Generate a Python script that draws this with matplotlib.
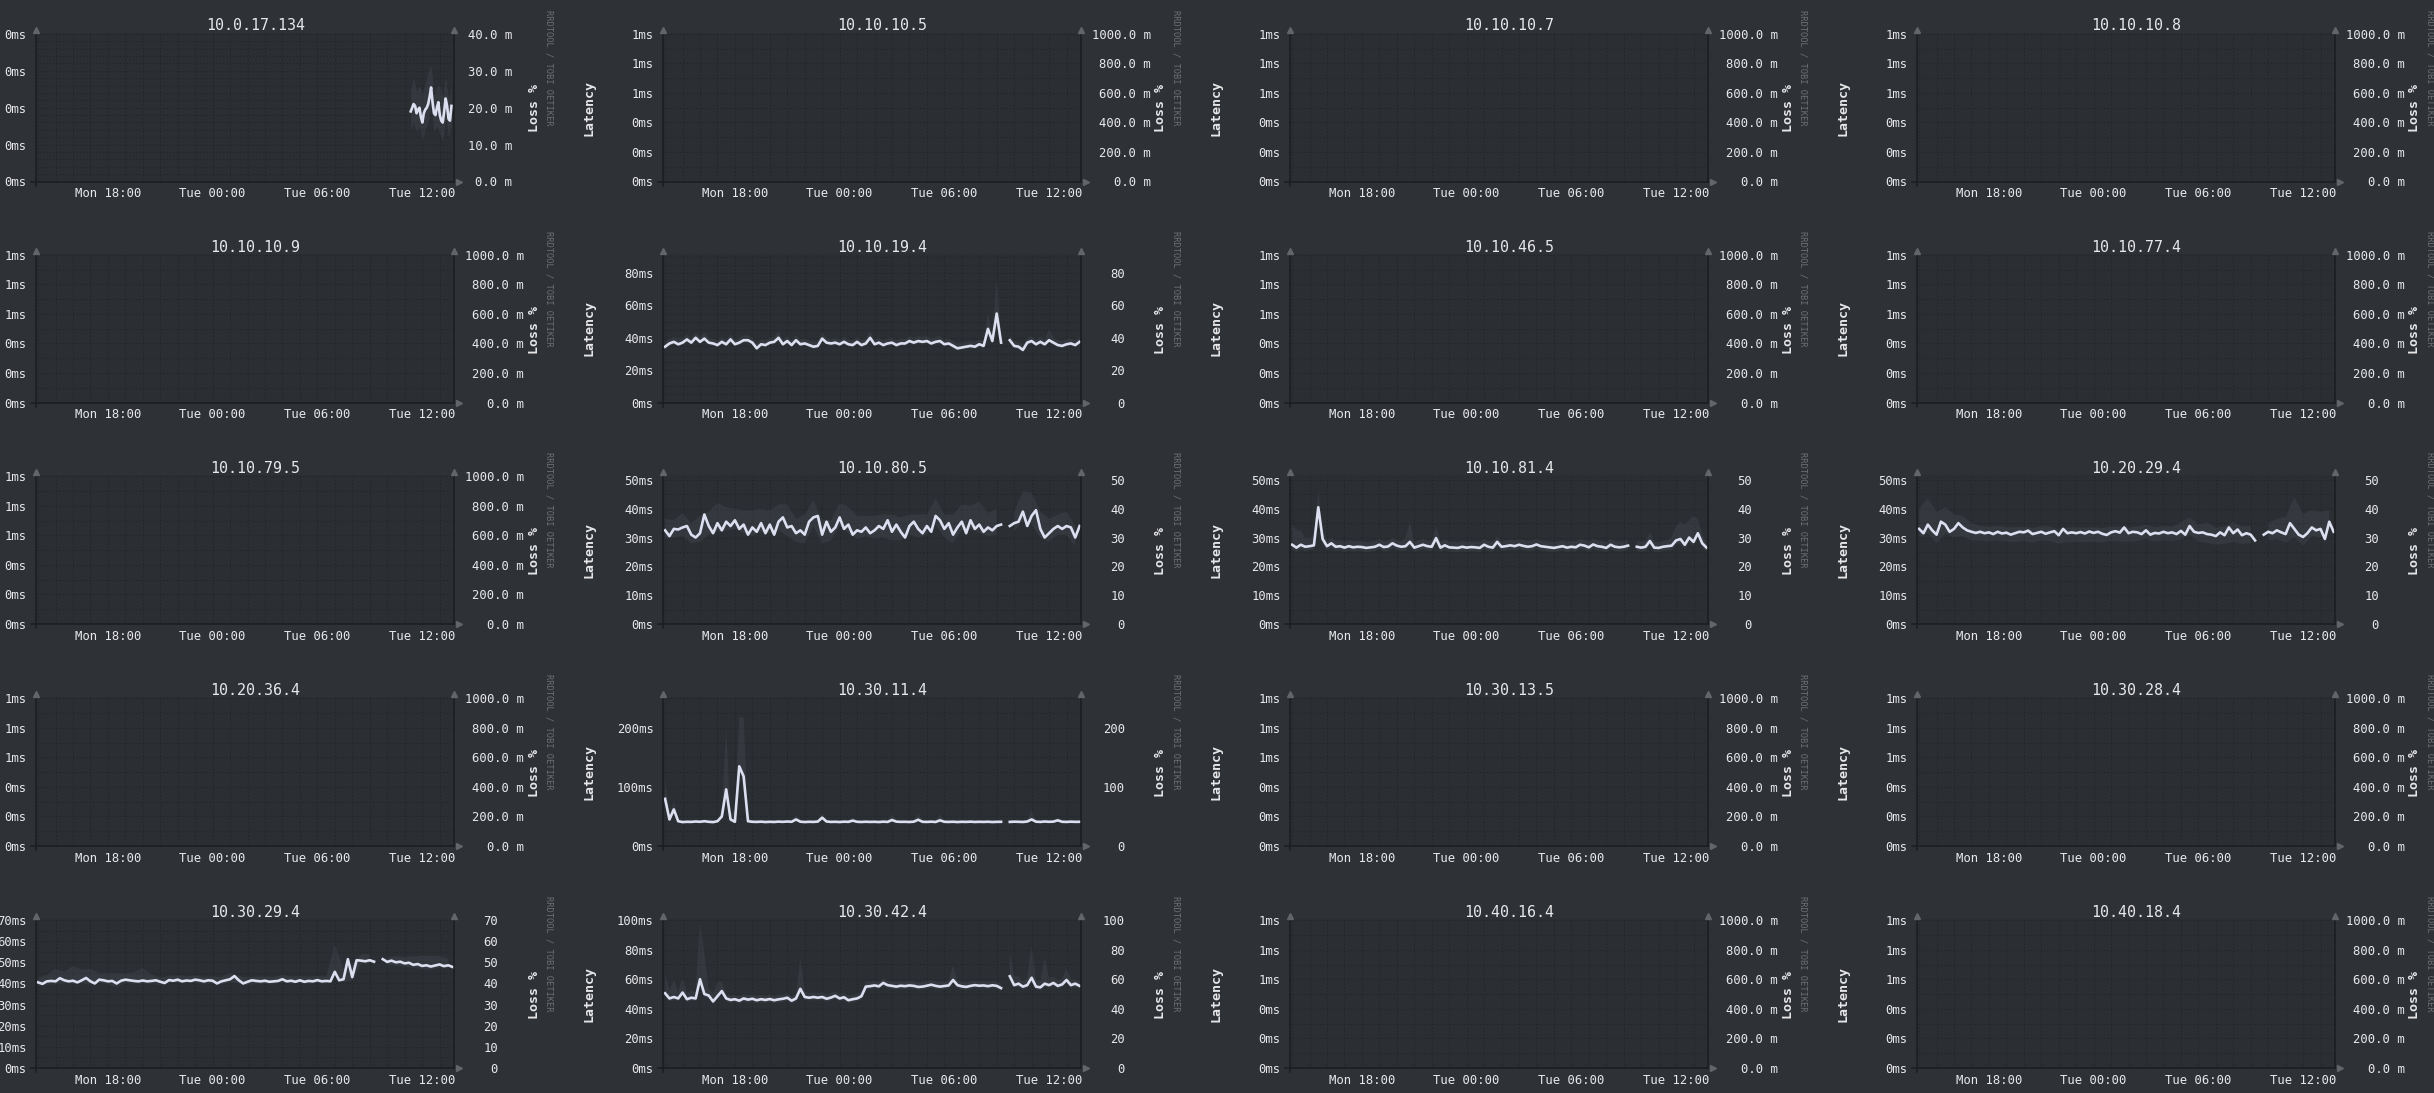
import numpy as np
import matplotlib
matplotlib.use("Agg")
import matplotlib.pyplot as plt
from matplotlib.ticker import MultipleLocator

plt.rcParams["font.family"] = ["DejaVu Sans Mono", "DejaVu Sans"]

nan = float("nan")

# ---------------- data ----------------
hosts = [
    "10.0.17.134", "10.10.10.5", "10.10.10.7", "10.10.10.8",
    "10.10.10.9", "10.10.19.4", "10.10.46.5", "10.10.77.4",
    "10.10.79.5", "10.10.80.5", "10.10.81.4", "10.20.29.4",
    "10.20.36.4", "10.30.11.4", "10.30.13.5", "10.30.28.4",
    "10.30.29.4", "10.30.42.4", "10.40.16.4", "10.40.18.4",
]
time_ticks = [18, 24, 30, 36]           # hours since Mon 00:00
time_labels = ["Mon 18:00", "Tue 00:00", "Tue 06:00", "Tue 12:00"]
window_start, window_end = 13.88, 37.83
sample_step = 0.25                       # 15 min samples from Mon 14:00
sample_first = 14.0
n_samples = 96

lat_10_10_19_4 = [
    34.5, 36.5, 37.5, 36.0, 37.0, 39.0, 37.0, 40.0, 37.5, 39.5, 37.0, 36.5,
    35.5, 37.5, 36.0, 39.0, 36.0, 37.0, 38.5, 38.5, 37.0, 33.5, 36.0, 35.5,
    37.0, 37.5, 40.0, 36.0, 38.0, 35.5, 38.5, 36.0, 36.5, 35.5, 34.5, 35.0,
    39.5, 37.0, 36.5, 37.0, 36.0, 37.5, 36.0, 35.5, 37.5, 35.5, 36.5, 40.0,
    36.0, 37.0, 35.5, 36.5, 37.0, 35.5, 36.5, 36.5, 38.0, 37.0, 38.0, 37.5,
    38.0, 36.5, 37.5, 38.0, 36.0, 36.5, 35.0, 33.5, 34.0, 34.5, 35.0, 34.5,
    36.0, 35.0, 45.5, 38.0, 55.0, 37.0, nan, 38.5, 35.0, 34.5, 32.5, 37.0,
    38.0, 36.0, 37.5, 36.0, 38.5, 37.0, 35.5, 35.0, 36.0, 36.5, 35.5, 37.5]
lat_10_10_80_5 = [
    32.5, 30.5, 33.0, 32.8, 33.5, 34.0, 31.0, 30.0, 31.5, 38.0, 34.0, 31.5,
    35.0, 32.5, 35.5, 34.0, 36.0, 33.0, 34.5, 31.0, 33.5, 32.0, 35.0, 31.5,
    34.5, 31.0, 35.5, 37.0, 33.5, 34.0, 31.5, 32.5, 31.0, 35.5, 37.0, 37.5,
    31.0, 35.5, 32.0, 33.5, 37.0, 33.0, 34.5, 31.0, 32.5, 32.0, 33.5, 31.5,
    32.5, 34.0, 33.0, 36.0, 32.0, 34.5, 32.0, 30.0, 34.0, 35.5, 33.0, 31.5,
    34.0, 32.0, 37.5, 36.0, 33.0, 35.0, 31.0, 33.5, 35.5, 31.5, 36.0, 33.0,
    34.5, 32.0, 33.5, 32.5, 34.0, 34.5, nan, 34.0, 35.0, 35.5, 39.0, 34.0,
    37.5, 39.5, 33.0, 30.0, 31.5, 33.0, 34.0, 33.0, 34.0, 33.5, 30.0, 34.0]
lat_10_10_81_4 = [
    27.5, 26.5, 27.5, 26.8, 27.0, 27.3, 40.5, 29.5, 27.0, 28.0, 26.8, 27.0,
    26.5, 27.0, 26.6, 26.8, 26.7, 26.4, 26.6, 26.8, 27.5, 26.7, 26.9, 28.0,
    27.2, 26.8, 27.0, 28.5, 26.5, 27.0, 27.5, 27.0, 26.8, 29.8, 26.5, 27.3,
    26.6, 26.5, 26.4, 26.8, 26.5, 26.7, 26.6, 26.4, 27.5, 26.8, 26.5, 28.5,
    26.8, 27.0, 27.3, 27.0, 27.5, 27.1, 26.8, 27.0, 27.6, 27.0, 26.8, 26.6,
    26.4, 26.7, 27.0, 26.5, 26.8, 26.6, 27.5, 27.2, 26.6, 27.6, 27.0, 26.8,
    26.4, 27.5, 26.8, 26.6, 26.8, 27.2, nan, 26.8, 26.5, 26.8, 28.8, 26.5,
    26.4, 26.8, 27.0, 27.2, 29.0, 29.5, 27.5, 30.0, 28.5, 31.5, 28.0, 26.5]
lat_10_20_29_4 = [
    33.0, 31.5, 34.5, 32.5, 31.0, 35.5, 34.5, 32.0, 33.0, 35.0, 33.5, 32.5,
    32.0, 31.6, 32.0, 31.5, 31.8, 31.2, 32.0, 31.4, 31.7, 31.0, 31.5, 32.0,
    31.8, 32.4, 31.2, 31.6, 32.0, 31.3, 31.8, 32.2, 30.8, 33.0, 31.5, 31.8,
    31.5, 31.9, 31.4, 32.1, 31.6, 32.0, 31.3, 30.9, 31.8, 32.2, 31.7, 33.5,
    31.5, 32.0, 31.8, 31.2, 32.5, 31.0, 31.6, 31.4, 32.0, 31.5, 31.8, 31.2,
    32.3, 31.0, 34.0, 32.0, 31.6, 31.8, 31.2, 31.0, 30.5, 31.8, 30.8, 33.5,
    31.5, 32.8, 30.8, 31.5, 31.0, 29.0, nan, 31.0, 32.0, 31.5, 32.5, 31.8,
    31.2, 35.0, 33.0, 31.0, 30.2, 31.5, 33.5, 32.5, 33.0, 29.5, 35.5, 32.0]
lat_10_30_11_4 = [
    80.0, 45.0, 62.0, 42.0, 40.5, 41.0, 40.8, 41.5, 41.0, 42.0, 41.0, 40.5,
    42.0, 50.0, 96.0, 45.0, 41.0, 135.0, 118.0, 42.0, 41.0, 40.8, 41.2, 40.6,
    41.0, 40.7, 41.3, 40.9, 41.5, 41.0, 45.0, 41.2, 40.6, 41.0, 40.8, 41.4,
    48.0, 41.5, 40.8, 41.0, 40.6, 41.2, 40.9, 43.0, 41.0, 40.7, 41.1, 40.8,
    41.0, 40.6, 41.2, 40.8, 44.0, 41.3, 40.9, 41.0, 40.7, 41.2, 44.5, 41.0,
    40.8, 41.2, 40.7, 43.5, 41.0, 40.8, 41.1, 40.6, 41.0, 40.8, 41.2, 40.7,
    41.0, 40.8, 41.1, 40.6, 40.9, 41.0, nan, 40.8, 41.2, 41.0, 40.7, 41.5,
    45.0, 41.2, 40.8, 41.5, 41.0, 41.3, 43.5, 41.0, 40.8, 41.2, 40.9, 41.0]
lat_10_30_29_4 = [
    40.5, 39.8, 41.0, 41.2, 41.0, 42.5, 41.5, 41.0, 41.3, 40.5, 41.5, 42.6,
    41.0, 40.0, 41.8, 41.5, 41.0, 41.2, 40.0, 41.3, 41.8, 41.5, 41.2, 41.0,
    41.4, 41.0, 41.2, 41.5, 40.8, 40.2, 41.6, 41.3, 41.8, 41.0, 41.4, 41.2,
    41.8, 41.5, 41.0, 41.5, 41.3, 40.0, 41.0, 41.5, 42.0, 43.5, 41.5, 40.0,
    40.8, 41.5, 41.2, 41.0, 41.3, 40.8, 41.0, 41.2, 42.0, 41.0, 41.3, 40.8,
    41.5, 40.8, 41.2, 41.0, 41.6, 41.0, 41.2, 41.0, 45.5, 41.5, 42.0, 51.5,
    43.0, 51.0, 50.8, 50.5, 51.0, 50.3, nan, 51.5, 50.2, 50.8, 50.0, 50.3,
    49.5, 49.8, 48.8, 49.2, 48.3, 48.6, 48.0, 48.5, 49.0, 48.2, 48.6, 47.8]
lat_10_30_42_4 = [
    50.5, 47.0, 48.0, 47.0, 51.0, 46.5, 47.5, 47.0, 60.0, 50.0, 49.0, 45.0,
    48.5, 52.0, 47.0, 46.0, 46.5, 45.5, 47.0, 46.2, 46.8, 45.8, 46.5, 46.0,
    46.6, 45.8, 46.4, 46.8, 47.5, 45.5, 47.0, 53.5, 48.0, 47.5, 48.0, 47.5,
    48.0, 46.8, 47.6, 48.8, 47.0, 47.8, 45.8, 46.5, 47.0, 48.5, 55.0, 55.3,
    55.8, 55.2, 57.5, 56.0, 55.5, 55.0, 55.6, 55.3, 55.8, 55.5, 54.8, 55.0,
    55.6, 56.3, 55.5, 55.0, 55.4, 55.8, 59.5, 56.0, 55.2, 54.8, 55.5, 56.0,
    55.6, 55.8, 55.3, 55.9, 55.5, 54.0, nan, 62.0, 56.0, 57.0, 55.0, 56.0,
    61.0, 55.0, 54.5, 57.0, 56.0, 57.5, 55.5, 56.5, 59.5, 56.0, 57.0, 55.5]
# 10.0.17.134 only reports during the last hours (5 min samples)
lat_10_0_17_134_start = 35.35
lat_10_0_17_134 = [
    19.0, 20.0, 21.0, 20.5, 18.5, 19.5, 20.0, 17.5, 16.0, 18.5, 19.5, 20.0,
    21.0, 23.0, 25.5, 21.5, 18.5, 18.0, 20.0, 21.5, 18.0, 16.5, 16.0, 19.0,
    22.5, 20.5, 17.0, 16.5, 20.5]

# smoke: spread above the median (every sample, or every 2nd sample for the
# shorter lists) and a spread below the median
smoke_up_10_10_19_4 = [
    3, 3, 3, 4, 3, 3, 3, 3, 3, 4, 3, 3,  3, 3, 3, 3, 3, 3, 3, 3, 3, 3, 3, 3,
    3, 3, 4, 3, 3, 3, 3, 3, 3, 3, 3, 3,  4, 3, 3, 3, 3, 3, 3, 3, 3, 3, 3, 4,
    3, 3, 3, 3, 3, 3, 3, 3, 3, 3, 3, 3,  3, 3, 3, 3, 3, 3, 3, 3, 3, 3, 3, 3,
    3, 3, 10, 4, 22, 4, 3, 3, 3, 3, 3, 3,  3, 3, 3, 3, 7, 3, 3, 3, 3, 3, 3, 3]
smoke_up_10_10_80_5 = [4, 3, 5, 4, 6, 5, 7, 5, 4, 5, 6, 5, 5, 6, 8, 5, 7, 6, 5, 4, 5, 6, 5, 4,
                       5, 5, 6, 5, 4, 5, 4, 6, 5, 7, 6, 5, 8, 5, 6, 5, 4, 7, 8, 6, 5, 4, 5, 4]
smoke_up_10_10_81_4 = [
    7, 6, 5, 3, 3, 3, 6, 3, 2, 2, 2, 2,  2, 2, 2, 2, 2, 2, 2, 2, 2, 2, 2, 2,
    2, 2, 3, 7, 2, 2, 2, 2, 2, 4, 2, 2,  2, 2, 2, 2, 2, 2, 2, 2, 2, 2, 2, 2,
    2, 2, 2, 2, 2, 2, 2, 2, 2, 2, 2, 2,  2, 2, 2, 2, 2, 2, 2, 2, 2, 2, 2, 2,
    2, 2, 2, 2, 2, 2, 2, 2, 2, 2, 3, 2,  2, 2, 2, 3, 5, 6, 7, 6, 9, 5, 3, 2]
smoke_up_10_20_29_4 = [7, 9, 8, 6, 5, 4, 3, 2, 2, 2, 2, 2, 2, 2, 2, 2, 2, 2, 2, 2, 2, 2, 2, 2,
                       2, 2, 2, 2, 2, 2, 3, 3, 3, 4, 3, 3, 4, 3, 3, 2, 3, 4, 6, 11, 8, 6, 6, 4]
smoke_up_10_30_11_4 = [
    37, 5, 15, 4, 3, 3, 3, 3, 3, 3, 3, 3,  4, 8, 103, 10, 20, 83, 100, 5, 3, 3, 3, 3,
    3, 3, 3, 3, 3, 3, 8, 3, 3, 3, 3, 3,  8, 3, 3, 3, 3, 3, 3, 5, 3, 3, 3, 3,
    3, 3, 3, 3, 10, 3, 3, 3, 3, 3, 10, 3,  3, 3, 3, 10, 3, 3, 3, 3, 3, 3, 3, 3,
    3, 3, 3, 3, 3, 3, 3, 3, 3, 3, 3, 3,  15, 3, 3, 3, 3, 3, 4, 3, 3, 3, 3, 3]
smoke_up_10_30_29_4 = [2, 3, 6, 4, 7, 5, 6, 3, 4, 5, 3, 4, 6, 3, 2, 2, 2, 2, 2, 2, 2, 2, 3, 2,
                       2, 2, 2, 2, 2, 2, 2, 2, 2, 2, 13, 5, 6, 3, 3, 2, 2, 3, 3, 4, 5, 5, 4, 3]
smoke_up_10_30_42_4 = [
    14, 5, 12, 4, 10, 4, 5, 4, 40, 27, 5, 5,  10, 6, 3, 3, 3, 3, 3, 3, 3, 3, 3, 3,
    3, 3, 3, 3, 3, 3, 3, 20, 4, 3, 3, 3,  3, 3, 3, 3, 3, 3, 3, 3, 3, 3, 3, 3,
    3, 3, 3, 3, 3, 3, 3, 3, 3, 3, 3, 3,  3, 3, 3, 3, 3, 3, 10, 3, 3, 3, 3, 3,
    3, 3, 3, 3, 3, 3, 3, 17, 6, 5, 4, 5,  22, 5, 4, 17, 5, 4, 4, 4, 8, 4, 3, 3]
smoke_up_10_0_17_134 = [6, 7, 6, 6, 8, 7, 9, 6, 5, 6, 8, 7, 6, 5, 5]
smoke_down = {"10.0.17.134": 5, "10.10.19.4": 1.5, "10.10.80.5": 3, "10.10.81.4": 1.5,
              "10.20.29.4": 3, "10.30.11.4": 2, "10.30.29.4": 1.5, "10.30.42.4": 2}

# axis tick sets
empty_ticks = [0, 0.2, 0.4, 0.6, 0.8, 1.0]
empty_left = ["0ms", "0ms", "0ms", "1ms", "1ms", "1ms"]
empty_right = ["0.0 m", "200.0 m", "400.0 m", "600.0 m", "800.0 m", "1000.0 m"]
ticks_17_134 = [0, 10, 20, 30, 40]
left_17_134 = ["0ms"] * 5
right_17_134 = ["0.0 m", "10.0 m", "20.0 m", "30.0 m", "40.0 m"]
ticks_19_4 = [0, 20, 40, 60, 80]
ticks_50 = [0, 10, 20, 30, 40, 50]
ticks_11_4 = [0, 100, 200]
ticks_29_4 = [0, 10, 20, 30, 40, 50, 60, 70]
ticks_42_4 = [0, 20, 40, 60, 80, 100]

# ---------------- style / layout ----------------
FW, FH = 2434, 1093
FIG_BG = "#2e3136"
PLOT_BG = "#2b2e32"
GRID_C = "#222428"
AXIS_C = "#1b1d20"
ARROW_C = "#62656a"
TEXT_C = "#e8e8ea"
CREDIT_C = "#6c6f74"
LINE_C = "#dcdff0"
SMOKE_C = "#9ea3b8"

col_left = [36, 663, 1290, 1917]
row_bottom = [181.5, 402.5, 624.0, 846.0, 1068.0]
PW, PH = 418, 149
TICK_FS = 8.8

fig = plt.figure(figsize=(FW / 100, FH / 100), dpi=100, facecolor=FIG_BG)


def ms(vals):
    return ["%dms" % v for v in vals]


def num(vals):
    return ["%d" % v for v in vals]


sample_t = sample_first + sample_step * np.arange(n_samples)
t_17_134 = lat_10_0_17_134_start + np.arange(len(lat_10_0_17_134)) / 12.0

series = {
    "10.0.17.134": (t_17_134, lat_10_0_17_134, smoke_up_10_0_17_134),
    "10.10.19.4": (sample_t, lat_10_10_19_4, smoke_up_10_10_19_4),
    "10.10.80.5": (sample_t, lat_10_10_80_5, smoke_up_10_10_80_5),
    "10.10.81.4": (sample_t, lat_10_10_81_4, smoke_up_10_10_81_4),
    "10.20.29.4": (sample_t, lat_10_20_29_4, smoke_up_10_20_29_4),
    "10.30.11.4": (sample_t, lat_10_30_11_4, smoke_up_10_30_11_4),
    "10.30.29.4": (sample_t, lat_10_30_29_4, smoke_up_10_30_29_4),
    "10.30.42.4": (sample_t, lat_10_30_42_4, smoke_up_10_30_42_4),
}
# (ymax, ticks, left labels, right labels, minor step, right-label offset px)
axes_cfg = {
    "10.0.17.134": (40.4, ticks_17_134, left_17_134, right_17_134, 2, 58),
    "10.10.19.4": (92.1, ticks_19_4, ms(ticks_19_4), num(ticks_19_4), 5, 44),
    "10.10.80.5": (51.7, ticks_50, ms(ticks_50), num(ticks_50), 5, 44),
    "10.10.81.4": (51.7, ticks_50, ms(ticks_50), num(ticks_50), 5, 44),
    "10.20.29.4": (51.7, ticks_50, ms(ticks_50), num(ticks_50), 5, 44),
    "10.30.11.4": (252.5, ticks_11_4, ms(ticks_11_4), num(ticks_11_4), 25, 44),
    "10.30.29.4": (70.5, ticks_29_4, ms(ticks_29_4), num(ticks_29_4), 5, 44),
    "10.30.42.4": (100.7, ticks_42_4, ms(ticks_42_4), num(ticks_42_4), 10, 44),
}
empty_cfg = (1.01, empty_ticks, empty_left, empty_right, 0.1, 70)

PT = 0.72  # points per pixel at 100 dpi


def ftxt(x, y, s, **kw):
    fig.text(x / FW, 1 - y / FH, s, **kw)


for k, host in enumerate(hosts):
    r, c = divmod(k, 4)
    L, B = col_left[c], row_bottom[r]
    R = L + PW
    ax = fig.add_axes([L / FW, 1 - B / FH, PW / FW, PH / FH])
    ax.set_facecolor(PLOT_BG)
    ymax, ticks, lft, rgt, minor, roff = axes_cfg.get(host, empty_cfg)
    ax.set_xlim(window_start, window_end)
    ax.set_ylim(0, ymax)
    ax.set_xticks(time_ticks)
    ax.set_xticklabels(time_labels)
    ax.xaxis.set_minor_locator(MultipleLocator(1))
    ax.set_yticks(ticks)
    ax.set_yticklabels(lft)
    ax.yaxis.set_minor_locator(MultipleLocator(minor))
    ax.grid(which="both", color=GRID_C, linestyle=(0, (1, 2)), linewidth=0.8)
    ax.set_axisbelow(True)
    for sp in ax.spines.values():
        sp.set_visible(False)
    ax.tick_params(axis="both", which="both", length=0, colors=TEXT_C, labelsize=TICK_FS)
    ax.tick_params(axis="y", pad=9.3 * PT)
    ax.tick_params(axis="x", pad=5.5 * PT)

    if host in series:
        t, med, up = series[host]
        med = np.asarray(med, dtype=float)
        up = np.asarray(up, dtype=float)
        dn = smoke_down[host]
        step = int(np.ceil(len(med) / len(up)))
        ts, ms_ = t[::step][:len(up)], med[::step][:len(up)]
        ax.fill_between(ts, ms_ - dn, ms_ + up, color=SMOKE_C,
                        alpha=0.09, linewidth=0, zorder=2)
        ax.plot(t, med, color=LINE_C, linewidth=1.9, zorder=3)

    # axis lines and arrows (rrdtool style)
    tr = ax.transAxes
    ax.plot([0, 0], [-0.03, 1.0], color=AXIS_C, lw=1.1, transform=tr, clip_on=False, zorder=4)
    ax.plot([1, 1], [0, 1.0], color=AXIS_C, lw=1.1, transform=tr, clip_on=False, zorder=4)
    ax.plot([-0.012, 1.0], [0, 0], color=AXIS_C, lw=1.1, transform=tr, clip_on=False, zorder=4)
    ax.plot([0, 1], [1.018, 1.018], marker="^", ms=5, linestyle="none",
            color=ARROW_C, transform=tr, clip_on=False, zorder=5)
    ax.plot([1.012], [0], marker=">", ms=5, linestyle="none",
            color=ARROW_C, transform=tr, clip_on=False, zorder=5)

    # right-hand axis labels
    ax2 = ax.twinx()
    ax2.set_ylim(0, ymax)
    ax2.set_yticks(ticks)
    ax2.set_yticklabels(rgt)
    ax2.patch.set_visible(False)
    for sp in ax2.spines.values():
        sp.set_visible(False)
    ax2.tick_params(axis="y", length=0, colors=TEXT_C, labelsize=TICK_FS, pad=roff * PT)
    for lab in ax2.get_yticklabels():
        lab.set_horizontalalignment("right")

    # titles and side labels
    ftxt(L + 219.5, B - 155.5, host, color=TEXT_C, fontsize=10.8, ha="center", va="center")
    if L - 74 > 0:
        ftxt(L - 74, B - 74, "Latency", color=TEXT_C, fontsize=9.5, fontweight="bold",
             rotation=90, ha="center", va="center")
    ftxt(R + 80, B - 73, "Loss %", color=TEXT_C, fontsize=9.5, fontweight="bold",
         rotation=90, ha="center", va="center")
    ftxt(R + 95, B - 114, "RRDTOOL / TOBI OETIKER", color=CREDIT_C, fontsize=6.3,
         rotation=270, ha="center", va="center")

fig.savefig("out.png", dpi=100, facecolor=FIG_BG)
